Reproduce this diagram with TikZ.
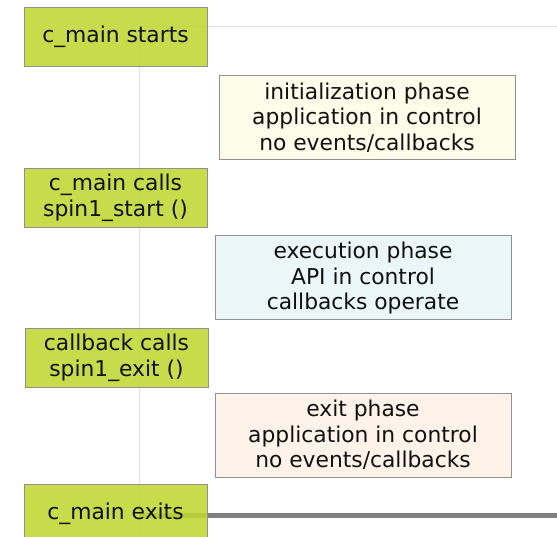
\documentclass[tikz,border=0pt]{standalone}
\usepackage{fontspec}
\setmainfont{DejaVu Sans}
\definecolor{boxgreen}{RGB}{192,215,50}
\definecolor{boxborder}{RGB}{145,145,145}
\definecolor{initfill}{RGB}{253,253,234}
\definecolor{execfill}{RGB}{234,246,247}
\definecolor{exitfill}{RGB}{253,243,232}
\definecolor{thinline}{RGB}{224,224,224}
\definecolor{thickline}{RGB}{128,128,128}
\definecolor{txt}{RGB}{17,17,17}
\begin{document}
\begin{tikzpicture}[x=1pt,y=-1pt,
  every node/.style={font=\fontsize{21.8}{25.5}\selectfont, text=txt, align=center, inner sep=0pt},
  event/.style={draw=boxborder, line width=1pt, fill=boxgreen, fill opacity=0.88, text opacity=1, minimum width=183pt, minimum height=58.5pt},
  phase/.style={draw=boxborder, line width=1pt, minimum width=296pt, minimum height=84pt},
  lifeline/.style={draw=thinline, line width=1pt},
  exitline/.style={draw=thickline, line width=5pt}]
\useasboundingbox (0,0) rectangle (557,537);
\clip (0,0) rectangle (557,537);
% lines behind boxes
\coordinate (top) at (139,27);
\coordinate (topright) at (557,27);
\coordinate (bottom) at (139,537);
\coordinate (exitstart) at (139,515);
\coordinate (exitend) at (557,515);
\draw[lifeline] (top) -- (topright);
\draw[lifeline] (top) -- (bottom);
\draw[exitline] (exitstart) -- (exitend);
% event boxes
\node[event] (start) at (115.5,37) {c\_main starts};
\node[event] (calls) at (115.5,198) {c\_main calls\\spin1\_start ()};
\node[event] (cbexit) at (116.5,358) {callback calls\\spin1\_exit ()};
\node[event] (exits) at (115.5,514) {c\_main exits};
% phase boxes
\node[phase, fill=initfill] (init) at (367,117.5) {initialization phase\\application in control\\no events/callbacks};
\node[phase, fill=execfill] (exec) at (363,278) {execution phase\\API in control\\callbacks operate};
\node[phase, fill=exitfill] (exitph) at (363,435) {exit phase\\application in control\\no events/callbacks};
\end{tikzpicture}
\end{document}
